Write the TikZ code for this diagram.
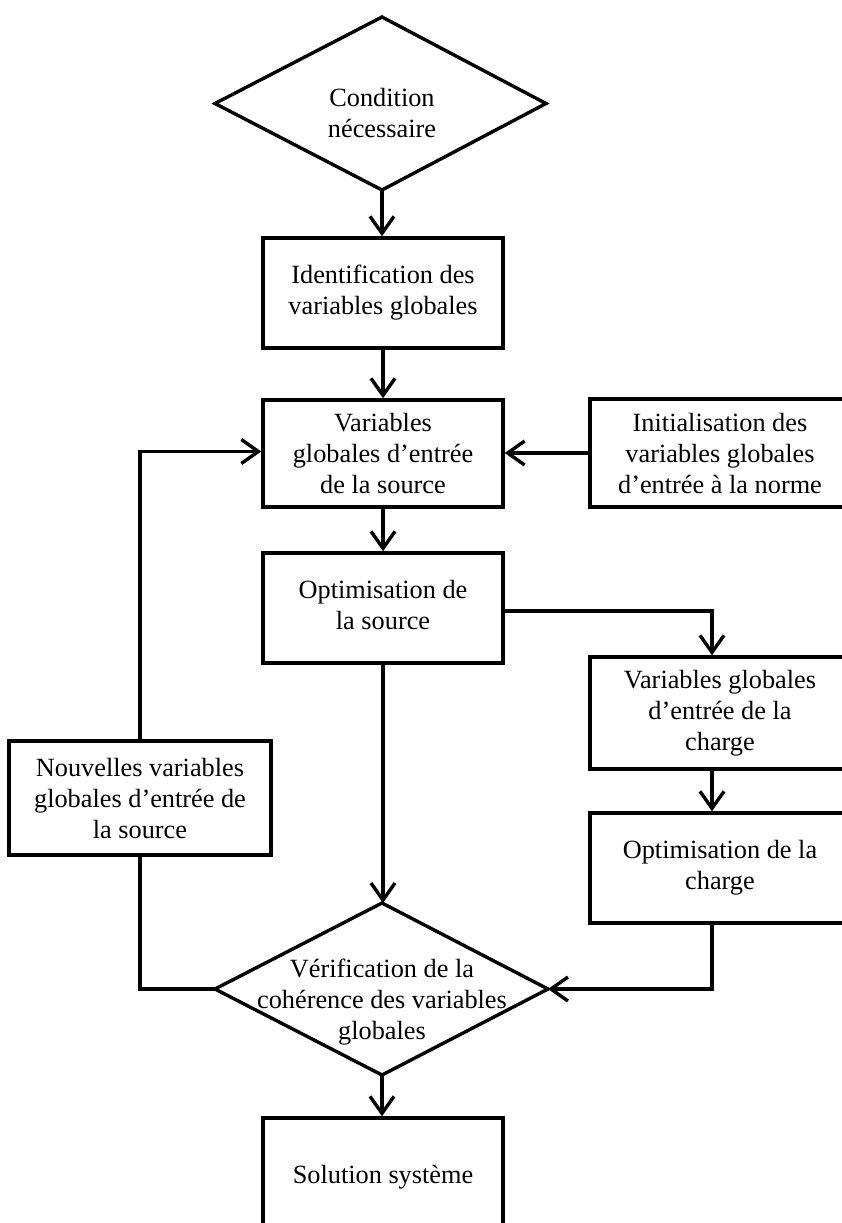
\documentclass[tikz,border=0pt]{standalone}
\usepackage{fontspec}
\setmainfont{Liberation Serif}
\usetikzlibrary{arrows.meta}
\begin{document}
\begin{tikzpicture}[x=1pt,y=-1pt,line width=3.4pt,
  txt/.style={align=center,inner sep=0pt,font=\fontsize{26.3}{31}\selectfont},
  box/.style={txt,draw,line width=3.4pt},
  arr/.style={-{Straight Barb[length=17pt,width=24pt]}},
  ln/.style={line join=miter}]
\useasboundingbox (0,0) rectangle (842,1223);
% decision 1
\coordinate (d1t) at (382,17);
\coordinate (d1r) at (546,103.5);
\coordinate (d1b) at (382,190);
\coordinate (d1l) at (215,103.5);
\draw[ln] (d1t) -- (d1r) -- (d1b) -- (d1l) -- cycle;
\node[txt] (d1) at (382,113) {Condition\\nécessaire};
% boxes
\node[box,minimum width=240pt,minimum height=110pt] (b1) at (383,293) {Identification des\\variables globales};
\node[box,minimum width=240pt,minimum height=107pt] (b2) at (383,453.5) {Variables\\globales d’entrée\\de la source};
\node[box,minimum width=260pt,minimum height=108pt] (init) at (720,453) {Initialisation des\\variables globales\\d’entrée à la norme};
\node[box,minimum width=240pt,minimum height=110pt] (b3) at (383,608) {Optimisation de\\la source\vphantom{g}};
\node[box,minimum width=260pt,minimum height=112pt] (b4) at (720,713) {Variables globales\\d’entrée de la\\charge};
\node[box,minimum width=260pt,minimum height=110pt] (b5) at (720,868) {Optimisation de la\\charge};
\node[box,minimum width=262pt,minimum height=114pt] (nv) at (140,798) {Nouvelles variables\\globales d’entrée de\\la source};
% decision 2
\coordinate (d2t) at (382,903);
\coordinate (d2r) at (548,989);
\coordinate (d2b) at (382,1075);
\coordinate (d2l) at (215,989);
\draw[ln] (d2t) -- (d2r) -- (d2b) -- (d2l) -- cycle;
\node[txt] (d2) at (382,1002) {Vérification de la\\cohérence des variables\\globales};
\node[box,minimum width=240pt,minimum height=118pt] (b6) at (383,1177) {Solution système};
% helper coordinates for the right column connectors
\coordinate (b4n) at ([xshift=-8pt]b4.north);
\coordinate (b4s) at ([xshift=-8pt]b4.south);
\coordinate (b5n) at ([xshift=-8pt]b5.north);
\coordinate (b5s) at ([xshift=-8pt]b5.south);
\coordinate (b3r) at ([yshift=-3pt]b3.east);
% connectors
\draw[arr] (d1b) -- (d1b |- b1.north);
\draw[arr] (b1.south) -- (b2.north);
\draw[arr] (b2.south) -- (b3.north);
\draw[arr] (init.west) -- (init.west -| b2.east);
\draw[arr,ln] (nv.north) |- ([yshift=2pt]b2.west);
\draw[arr,ln] (b3r) -| (b4n);
\draw[arr] (b4s) -- (b5n);
\draw[arr,ln] (b5s) |- (d2r);
\draw[arr] (b3.south) -- (b3.south |- d2t);
\draw[ln] (nv.south) |- (d2l);
\draw[arr] (d2b) -- (d2b |- b6.north);
\end{tikzpicture}
\end{document}
